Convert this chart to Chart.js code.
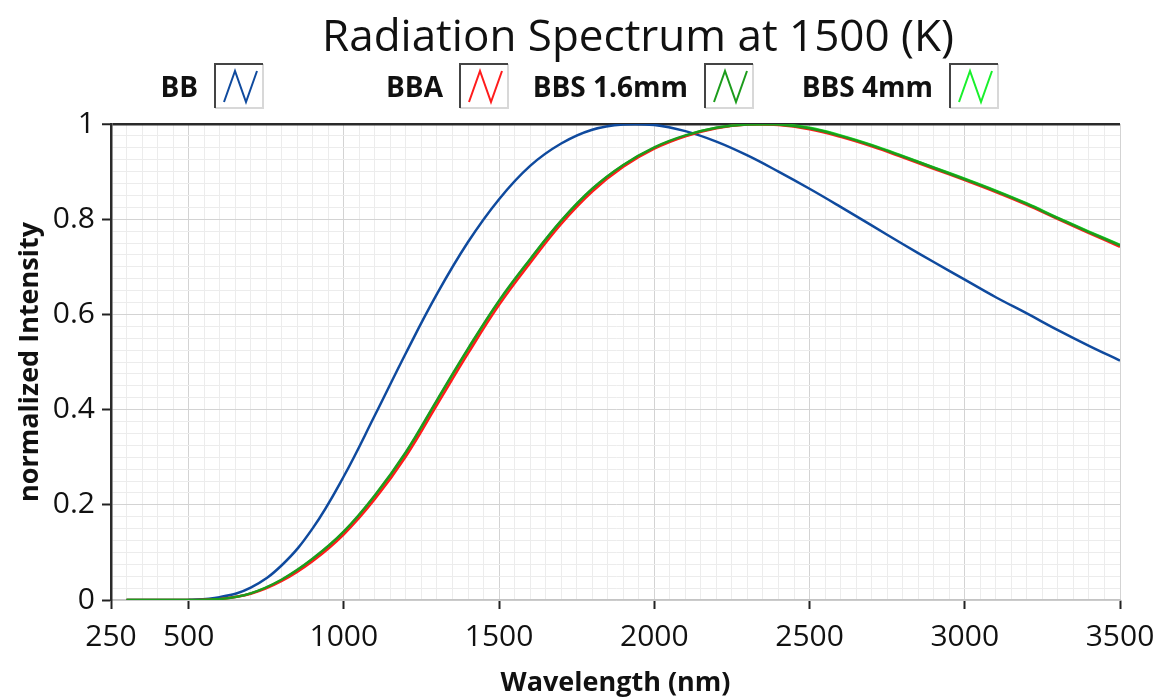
<!DOCTYPE html>
<html>
<head>
<meta charset="utf-8">
<title>Radiation Spectrum at 1500 (K)</title>
<script src="https://cdn.jsdelivr.net/npm/chart.js"></script>
<style>
  html, body { margin: 0; padding: 0; background: #fff; }
  #wrap { width: 1157px; height: 697px; }
</style>
</head>
<body>
<div id="wrap"><canvas id="spectrum" width="1157" height="697"></canvas></div>
<script>
// wavelength grid (nm) the curves were read at
const wavelengths = [300, 400, 500, 600, 700, 800, 900, 1000, 1100, 1200, 1300, 1400, 1500, 1600, 1700, 1800,
  1900, 2000, 2100, 2200, 2300, 2400, 2500, 2600, 2700, 2800, 2900, 3000, 3100, 3200, 3300, 3400, 3500];

// normalized intensities
const bb = [0, 0, 0.0005, 0.006, 0.026, 0.073, 0.151, 0.260, 0.388, 0.519, 0.643, 0.752, 0.842, 0.912, 0.959, 0.988,
  0.999, 0.998, 0.985, 0.963, 0.934, 0.900, 0.864, 0.826, 0.787, 0.748, 0.710, 0.673, 0.636, 0.602, 0.567, 0.534, 0.503];
const bba = [0, 0, 0, 0.002, 0.013, 0.040, 0.082, 0.138, 0.212, 0.302, 0.410, 0.518, 0.620, 0.708, 0.790, 0.858,
  0.910, 0.948, 0.974, 0.991, 0.999, 0.998, 0.989, 0.973, 0.953, 0.930, 0.906, 0.882, 0.857, 0.830, 0.800, 0.771, 0.742];
const bbs16 = [0, 0, 0, 0.002, 0.014, 0.043, 0.087, 0.144, 0.220, 0.311, 0.420, 0.528, 0.629, 0.716, 0.797, 0.864,
  0.914, 0.951, 0.976, 0.992, 0.999, 0.999, 0.991, 0.975, 0.955, 0.932, 0.908, 0.884, 0.859, 0.832, 0.802, 0.773, 0.745];
const bbs4 = [0, 0, 0, 0.002, 0.014, 0.042, 0.086, 0.143, 0.218, 0.309, 0.418, 0.526, 0.627, 0.715, 0.796, 0.863,
  0.913, 0.950, 0.975, 0.992, 0.999, 0.999, 0.992, 0.976, 0.956, 0.933, 0.909, 0.885, 0.860, 0.833, 0.803, 0.774, 0.746];

const seriesNames = ['BB', 'BBA', 'BBS 1.6mm', 'BBS 4mm'];
const seriesValues = [bb, bba, bbs16, bbs4];
const seriesColors = ['#0f4a9e', '#ff1c1c', '#1c9c1c', '#19f02c'];
const drawOrder = [2, 1, 0, 3];   // lower = drawn on top

const xTickLabels = [250, 500, 1000, 1500, 2000, 2500, 3000, 3500];
const yTickLabels = [0, 0.2, 0.4, 0.6, 0.8, 1];

const titleText = 'Radiation Spectrum at 1500 (K)';

const MAJOR = '#d3d3d3', MINOR = '#ececec', INK = '#111';

function isYMajor(v) {
  return yTickLabels.some(t => Math.abs(t - v) < 1e-9);
}

// title + LabVIEW style legend boxes
const headerPlugin = {
  id: 'header',
  afterDraw(chart) {
    const ctx = chart.ctx;
    ctx.save();
    ctx.fillStyle = INK;
    ctx.textBaseline = 'alphabetic';
    ctx.font = '44px "Open Sans", sans-serif';
    ctx.textAlign = 'center';
    ctx.fillText(titleText, 638, 51);

    ctx.font = 'bold 28px "Open Sans", sans-serif';
    ctx.textAlign = 'right';
    chart.data.datasets.forEach((ds, i) => {
      const bx = 215 + i * 245, by = 64, bw = 48, bh = 44;
      ctx.fillStyle = INK;
      ctx.fillText(ds.label, bx - 17, 97);
      ctx.fillStyle = '#fff';
      ctx.fillRect(bx, by, bw, bh);
      // sunken frame
      ctx.lineWidth = 2;
      ctx.strokeStyle = '#d8d8d8';
      ctx.beginPath();
      ctx.moveTo(bx + bw, by); ctx.lineTo(bx + bw, by + bh); ctx.lineTo(bx, by + bh);
      ctx.stroke();
      ctx.strokeStyle = '#444';
      ctx.beginPath();
      ctx.moveTo(bx, by + bh); ctx.lineTo(bx, by); ctx.lineTo(bx + bw, by);
      ctx.stroke();
      // zig-zag sample
      ctx.strokeStyle = ds.borderColor;
      ctx.lineWidth = 2;
      ctx.beginPath();
      ctx.moveTo(bx + 9, by + bh - 6);
      ctx.lineTo(bx + 20, by + 7);
      ctx.lineTo(bx + 31, by + bh - 6);
      ctx.lineTo(bx + 42, by + 7);
      ctx.stroke();
    });
    ctx.restore();
  }
};

Chart.defaults.font.family = "'Open Sans', sans-serif";
Chart.defaults.color = INK;

const ctx = document.getElementById('spectrum').getContext('2d');
new Chart(ctx, {
  type: 'line',
  data: {
    datasets: seriesNames.map((name, i) => ({
      label: name,
      data: wavelengths.map((w, j) => ({ x: w, y: seriesValues[i][j] })),
      borderColor: seriesColors[i],
      backgroundColor: seriesColors[i],
      borderWidth: 2.5,
      pointRadius: 0,
      fill: false,
      tension: 0.4,
      order: drawOrder[i]
    }))
  },
  options: {
    responsive: false,
    animation: false,
    devicePixelRatio: 1,
    layout: { padding: { top: 124, right: 37, left: 0, bottom: 0 } },
    plugins: {
      legend: { display: false },
      title: { display: false },
      tooltip: { enabled: false }
    },
    scales: {
      x: {
        type: 'linear',
        min: 250,
        max: 3500,
        afterFit(s) {
          s.height = 97;
          s.paddingLeft = 0;
          s.paddingRight = 0;
        },
        ticks: {
          stepSize: 50,
          autoSkip: false,
          maxRotation: 0,
          minRotation: 0,
          padding: 10,
          color: INK,
          font: { size: 30 },
          callback: v => xTickLabels.includes(v) ? String(v) : ''
        },
        grid: {
          color: c => (c.tick && c.tick.value % 500 === 0) ? MAJOR : MINOR,
          lineWidth: 1,
          tickLength: 9,
          tickWidth: 2,
          tickColor: c => (c.tick && xTickLabels.includes(c.tick.value)) ? '#222' : 'rgba(0,0,0,0)'
        },
        border: { color: '#c4c4c4', width: 1.5 },
        title: {
          display: true,
          text: 'Wavelength (nm)',
          color: INK,
          font: { size: 27, weight: 'bold', lineHeight: 1 },
          padding: { top: 0, bottom: 0 }
        }
      },
      y: {
        min: 0,
        max: 1,
        afterFit(s) { s.width = 111; },
        ticks: {
          stepSize: 0.025,
          autoSkip: false,
          padding: 7,
          color: INK,
          font: { size: 30 },
          callback: v => isYMajor(v) ? String(v) : ''
        },
        grid: {
          color: c => (c.tick && c.tick.value === 1) ? '#2a2a2a' : (c.tick && isYMajor(c.tick.value)) ? MAJOR : MINOR,
          lineWidth: c => (c.tick && c.tick.value === 1) ? 2.5 : 1,
          tickLength: 9,
          tickWidth: 2,
          tickColor: c => (c.tick && isYMajor(c.tick.value)) ? '#222' : 'rgba(0,0,0,0)'
        },
        border: { color: '#2a2a2a', width: 2.5 },
        title: {
          display: true,
          text: 'normalized Intensity',
          color: INK,
          font: { size: 27, weight: 'bold' },
          padding: { top: 14, bottom: 0 }
        }
      }
    }
  },
  plugins: [headerPlugin]
});
</script>
</body>
</html>
